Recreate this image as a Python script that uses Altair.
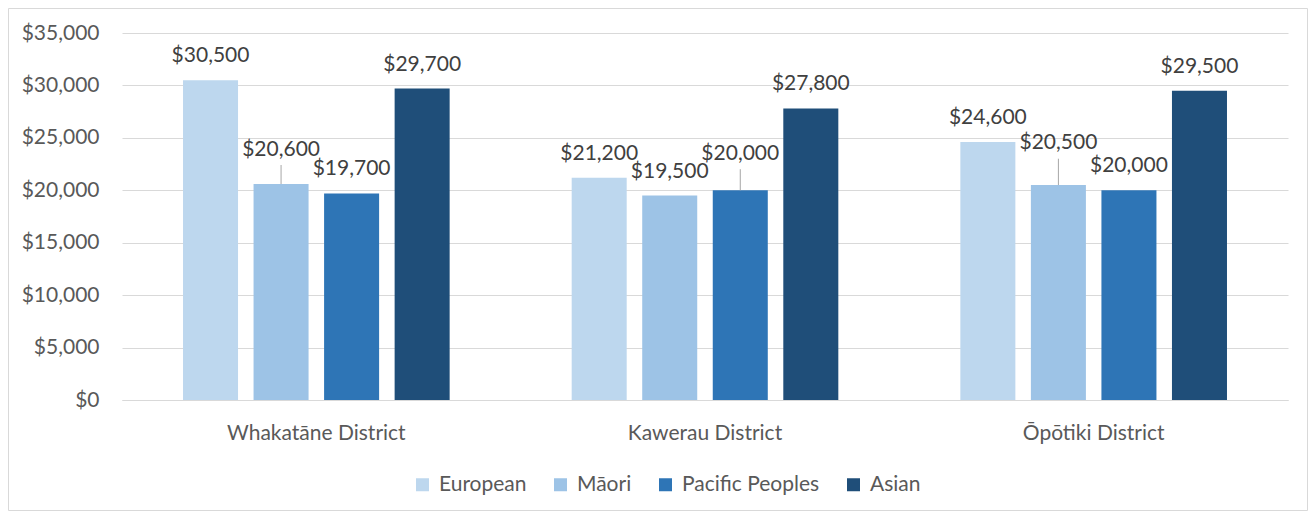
import altair as alt
import pandas as pd

districts = ["Whakatāne District", "Kawerau District", "Ōpōtiki District"]
ethnicities = ["European", "Māori", "Pacific Peoples", "Asian"]
european = [30500, 21200, 24600]
maori = [20600, 19500, 20500]
pacific = [19700, 20000, 20000]
asian = [29700, 27800, 29500]
# extra lift (in $) for the data labels that were moved up and get a leader line
european_lift = [0, 0, 0]
maori_lift = [1000, 0, 1700]
pacific_lift = [0, 1200, 0]
asian_lift = [0, 0, 0]
colors = ["#BDD7EE", "#9DC3E6", "#2E75B6", "#1F4E79"]
y_ticks = [0, 5000, 10000, 15000, 20000, 25000, 30000, 35000]

rows = []
for eth, vals, lifts in zip(ethnicities,
                            [european, maori, pacific, asian],
                            [european_lift, maori_lift, pacific_lift, asian_lift]):
    for d, v, l in zip(districts, vals, lifts):
        rows.append({"district": d, "ethnicity": eth, "value": v,
                     "lift": l, "label_at": v + l})
df = pd.DataFrame(rows)

FONT = "Lato"
FS = 21
W, H = 1166, 367

x_axis = alt.Axis(title=None, labelAngle=0, labelFont=FONT, labelFontSize=FS,
                  labelColor="#595959", labelPadding=39,
                  labelBaseline="alphabetic", ticks=False, tickSize=0,
                  domain=True, domainColor="#d9d9d9", domainWidth=1,
                  grid=False)
y_axis = alt.Axis(title=None, values=y_ticks, format="$,.0f",
                  labelFont=FONT, labelFontSize=FS, labelColor="#595959",
                  labelPadding=23, ticks=False, tickSize=0, domain=False,
                  grid=True, gridColor="#d9d9d9", gridWidth=1)
x_scale = alt.Scale(paddingInner=0, paddingOuter=0)
xoff_enc = alt.XOffset("ethnicity:N", sort=ethnicities,
                       scale=alt.Scale(paddingInner=0.22, paddingOuter=0.865))
y_scale = alt.Scale(domain=[0, 35000], nice=False)

base = alt.Chart(df)

bars = base.mark_bar().encode(
    x=alt.X("district:N", sort=districts, scale=x_scale, axis=x_axis),
    xOffset=xoff_enc,
    y=alt.Y("value:Q", scale=y_scale, axis=y_axis),
    color=alt.Color("ethnicity:N", sort=ethnicities,
                    scale=alt.Scale(domain=ethnicities, range=colors),
                    legend=alt.Legend(orient="none", legendX=290, legendY=441,
                                      direction="horizontal", title=None,
                                      symbolType="square", symbolSize=169,
                                      symbolStrokeWidth=0, labelFont=FONT,
                                      labelFontSize=FS, labelColor="#595959",
                                      labelOffset=6, columnPadding=23)),
)

leaders = base.transform_filter(alt.datum.lift > 0).mark_rule(
    color="#a6a6a6", strokeWidth=1, y2Offset=-8.5
).encode(
    x=alt.X("district:N", sort=districts, scale=x_scale, axis=x_axis),
    xOffset=xoff_enc,
    y=alt.Y("value:Q", scale=y_scale, axis=y_axis),
    y2="label_at:Q",
)

labels = base.mark_text(font=FONT, fontSize=FS, color="#404040",
                        baseline="alphabetic", dy=-18).encode(
    x=alt.X("district:N", sort=districts, scale=x_scale, axis=x_axis),
    xOffset=xoff_enc,
    y=alt.Y("label_at:Q", scale=y_scale, axis=y_axis),
    text=alt.Text("value:Q", format="$,.0f"),
)

frame = alt.Chart(pd.DataFrame({"k": [0]})).mark_rect(
    fillOpacity=0, stroke="#d9d9d9", strokeWidth=1
).encode(
    x=alt.value(-113.5), x2=alt.value(1185.5),
    y=alt.value(-24.5), y2=alt.value(477.5),
)

chart = alt.layer(bars, leaders, labels, frame).properties(
    width=W, height=H,
    autosize=alt.AutoSizeParams(type="none"),
    padding={"left": 114, "top": 25, "right": 20, "bottom": 111},
).configure(background="white").configure_view(
    stroke="transparent", strokeWidth=0
).configure_axisY(domain=False)

chart.save("out.html", embed_options={"renderer": "svg", "actions": False})
